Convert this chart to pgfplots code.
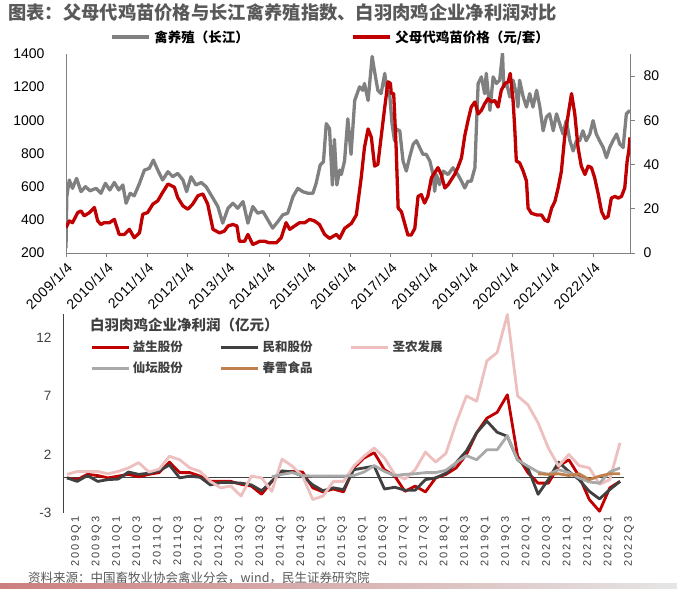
\documentclass[border=0pt]{standalone}
\usepackage{fontspec}
\setmainfont{Liberation Sans}
\newfontfamily\cjk{Noto Sans CJK SC}
\usepackage{pgfplots}
\pgfplotsset{compat=1.18}

\definecolor{cred}{HTML}{C00000}
\definecolor{cgray}{HTML}{808080}
\definecolor{cdark}{HTML}{404040}
\definecolor{cpink}{HTML}{EDBFBF}
\definecolor{clight}{HTML}{A9A9A9}
\definecolor{cbrown}{HTML}{C0804C}
\definecolor{ctitle}{HTML}{595959}

\newcommand\fs[1]{\fontsize{#1bp}{#1bp}\selectfont}

\begin{document}
\begin{tikzpicture}[x=1bp,y=1bp]
\useasboundingbox (0,0) rectangle (677,589);

% ---------- top: price vs index ----------
\begin{axis}[
  at={(66bp,336bp)}, anchor=south west,
  scale only axis, width=564bp, height=199bp,
  xmin=2009, xmax=2022.89, ymin=200, ymax=1400,
  axis x line*=bottom, axis y line*=left,
  axis line style={-, draw=cgray, line width=0.8pt},
  tick align=outside, major tick length=4bp,
  xtick={2009,...,2022},
  xticklabels={2009/1/4,2010/1/4,2011/1/4,2012/1/4,2013/1/4,2014/1/4,2015/1/4,
    2016/1/4,2017/1/4,2018/1/4,2019/1/4,2020/1/4,2021/1/4,2022/1/4},
  xtick style={draw=cgray, line width=0.8pt},
  ytick={200,400,...,1400}, ytick style={draw=none},
  /pgf/number format/assume math mode=true,
  /pgf/number format/1000 sep={},
  xticklabel style={rotate=45, anchor=north east, font=\fs{14}\addfontfeatures{LetterSpace=4}},
  yticklabel style={font=\fs{14}, xshift=-14bp},
  legend style={at={(0.078,1.085)}, anchor=west, draw=none, fill=none,
    inner sep=0pt, legend columns=2,
    nodes={inner sep=0pt, font=\cjk\bfseries\fs{13.5}},
    /tikz/every odd column/.append style={column sep=4bp},
    /tikz/every even column/.append style={column sep=102bp}},
  legend image code/.code={\draw[#1] (0bp,0bp) -- (37bp,0bp);},
]
\addplot[cgray, line width=3.3bp, line join=round] coordinates {
(2009.00,230) (2009.02,540) (2009.08,640) (2009.16,590) (2009.26,650)
(2009.37,570) (2009.48,600) (2009.59,575) (2009.74,590) (2009.86,560)
(2009.97,620) (2010.08,580) (2010.19,625) (2010.30,580) (2010.40,610)
(2010.48,500) (2010.58,560) (2010.68,545) (2010.81,620) (2010.93,700)
(2011.05,710) (2011.15,760) (2011.26,700) (2011.38,640) (2011.51,690)
(2011.63,660) (2011.75,680) (2011.88,640) (2011.97,570) (2012.08,660)
(2012.20,610) (2012.33,625) (2012.45,600) (2012.62,530) (2012.74,480)
(2012.86,380) (2012.99,470) (2013.11,500) (2013.23,470) (2013.36,510)
(2013.48,380) (2013.60,480) (2013.72,440) (2013.85,450) (2013.97,400)
(2014.09,350) (2014.22,390) (2014.34,430) (2014.46,440) (2014.59,540)
(2014.71,590) (2014.83,570) (2014.96,560) (2015.08,560) (2015.16,620)
(2015.26,730) (2015.34,750) (2015.41,980) (2015.49,950) (2015.56,610)
(2015.61,885) (2015.67,610) (2015.74,700) (2015.78,673) (2015.86,755)
(2015.94,1009) (2016.02,795) (2016.11,1120) (2016.23,1202) (2016.31,1181)
(2016.35,1222) (2016.44,1120) (2016.54,1385) (2016.60,1293) (2016.68,1181)
(2016.76,1161) (2016.85,1283) (2016.90,1181) (2016.97,1161) (2017.03,978)
(2017.09,877) (2017.13,948) (2017.22,937) (2017.30,755) (2017.38,694)
(2017.46,775) (2017.55,856) (2017.63,877) (2017.71,836) (2017.79,795)
(2017.87,795) (2017.96,755) (2018.04,673) (2018.08,572) (2018.12,673)
(2018.20,612) (2018.29,694) (2018.41,673) (2018.53,714) (2018.65,673)
(2018.74,633) (2018.82,592) (2018.90,633) (2018.98,633) (2019.07,714)
(2019.11,978) (2019.15,1222) (2019.23,1262) (2019.31,1161) (2019.35,1283)
(2019.44,1060) (2019.52,1262) (2019.60,1222) (2019.68,1242) (2019.75,1405)
(2019.78,1202) (2019.85,1222) (2019.93,1141) (2020.01,1242) (2020.09,1161)
(2020.13,1080) (2020.17,1242) (2020.26,1141) (2020.34,1080) (2020.42,1161)
(2020.50,1080) (2020.59,1181) (2020.67,1080) (2020.75,937) (2020.83,1019)
(2020.91,1039) (2021.00,937) (2021.08,1039) (2021.16,978) (2021.24,917)
(2021.32,998) (2021.41,877) (2021.49,815) (2021.57,877) (2021.65,877)
(2021.73,937) (2021.81,877) (2021.90,917) (2021.98,998) (2022.06,917)
(2022.14,877) (2022.23,836) (2022.31,775) (2022.39,836) (2022.47,877)
(2022.56,917) (2022.64,856) (2022.72,836) (2022.80,1039) (2022.89,1060)
};
\addlegendentry{禽养殖（长江）}
\addlegendimage{cred, line width=3.3bp}
\addlegendentry{父母代鸡苗价格（元/套）}
\end{axis}

\begin{axis}[
  at={(66bp,336bp)}, anchor=south west,
  scale only axis, width=564bp, height=199bp,
  xmin=2009, xmax=2022.89, ymin=0, ymax=90,
  axis x line=none, axis y line*=right,
  axis line style={-, draw=cgray, line width=0.8pt},
  tick align=outside, major tick length=5bp,
  ytick={0,20,...,80}, ytick style={draw=cgray, line width=0.8pt},
  /pgf/number format/assume math mode=true,
  yticklabel style={font=\fs{14}, xshift=5bp},
]
\addplot[cred, line width=3.3bp, line join=round] coordinates {
(2009.00,11.4) (2009.08,14.5) (2009.16,13.7) (2009.29,18.3) (2009.37,19.0)
(2009.45,16.8) (2009.58,18.3) (2009.70,20.6) (2009.78,14.5) (2009.86,12.9)
(2009.94,13.7) (2010.07,13.7) (2010.19,15.2) (2010.31,8.4) (2010.44,8.4)
(2010.56,10.7) (2010.68,6.9) (2010.81,9.1) (2010.89,17.5) (2011.01,18.3)
(2011.14,22.1) (2011.26,23.6) (2011.38,27.4) (2011.51,31.2) (2011.59,30.5)
(2011.67,29.7) (2011.75,25.1) (2011.88,21.3) (2012.00,19.8) (2012.12,22.1)
(2012.25,25.9) (2012.37,26.7) (2012.49,22.1) (2012.62,10.7) (2012.78,9.1)
(2012.90,9.9) (2012.99,12.2) (2013.11,12.9) (2013.21,12.2) (2013.27,5.3)
(2013.40,5.3) (2013.48,8.4) (2013.60,3.8) (2013.77,5.3) (2013.89,5.3)
(2014.01,4.6) (2014.18,4.6) (2014.30,6.9) (2014.42,13.7) (2014.51,10.7)
(2014.63,12.2) (2014.75,13.7) (2014.88,13.7) (2015.00,15.2) (2015.12,14.5)
(2015.24,12.9) (2015.37,8.4) (2015.49,6.6) (2015.66,8.4) (2015.74,6.6)
(2015.86,11.1) (2016.03,13.4) (2016.15,17.2) (2016.27,34.0) (2016.35,47.7)
(2016.44,56.1) (2016.52,52.3) (2016.60,39.3) (2016.68,40.1) (2016.76,52.3)
(2016.85,66.0) (2016.93,77.4) (2016.99,76.7) (2017.01,72.1) (2017.07,72.1)
(2017.13,47.7) (2017.18,20.3) (2017.26,18.7) (2017.34,13.4) (2017.42,8.1)
(2017.50,8.1) (2017.59,11.1) (2017.67,25.6) (2017.75,26.4) (2017.83,22.6)
(2017.91,25.6) (2018.00,34.0) (2018.08,36.3) (2018.16,38.6) (2018.24,35.5)
(2018.33,29.4) (2018.41,30.9) (2018.49,33.2) (2018.57,35.5) (2018.65,38.6)
(2018.74,43.1) (2018.82,53.0) (2018.90,59.9) (2018.98,66.0) (2019.07,68.3)
(2019.15,62.9) (2019.23,64.5) (2019.31,67.5) (2019.39,69.8) (2019.48,68.3)
(2019.56,69.0) (2019.64,66.0) (2019.72,73.6) (2019.81,76.7) (2019.89,77.4)
(2019.94,81.2) (2020.01,69.0) (2020.05,56.8) (2020.09,41.6) (2020.17,40.8)
(2020.26,37.0) (2020.34,32.5) (2020.38,20.3) (2020.46,18.0) (2020.59,17.2)
(2020.71,17.2) (2020.79,14.9) (2020.87,14.2) (2020.96,20.3) (2021.04,23.3)
(2021.12,29.4) (2021.20,37.0) (2021.28,52.3) (2021.37,62.9) (2021.45,72.1)
(2021.53,62.9) (2021.61,47.7) (2021.69,39.3) (2021.78,35.5) (2021.86,39.3)
(2021.94,38.6) (2022.02,34.0) (2022.11,26.4) (2022.19,18.7) (2022.27,15.7)
(2022.35,16.5) (2022.43,24.8) (2022.52,25.6) (2022.60,24.8) (2022.68,25.6)
(2022.76,29.4) (2022.82,41.6) (2022.86,46.2) (2022.89,52.3)
};
\end{axis}

% ---------- bottom: quarterly net profit ----------
\begin{axis}[
  at={(63bp,76bp)}, anchor=south west,
  scale only axis, width=561bp, height=199bp,
  xmin=-0.39, xmax=54.39, ymin=-3, ymax=14,
  axis x line*=bottom, axis y line*=left,
  x axis line style={draw=none},
  y axis line style={-, draw=cdark, line width=0.8pt},
  xtick={0,2,...,54}, xtick style={draw=none},
  xticklabels={2009Q1,2009Q3,2010Q1,2010Q3,2011Q1,2011Q3,2012Q1,2012Q3,
    2013Q1,2013Q3,2014Q1,2014Q3,2015Q1,2015Q3,2016Q1,2016Q3,2017Q1,2017Q3,
    2018Q1,2018Q3,2019Q1,2019Q3,2020Q1,2020Q3,2021Q1,2021Q3,2022Q1,2022Q3},
  xticklabel style={rotate=90, anchor=east, yshift=-9bp, text=cdark,
    font=\fs{11}\addfontfeatures{LetterSpace=20}},
  ytick={-3,2,7,12}, ytick style={draw=none},
  extra y ticks={0}, extra y tick labels={},
  extra y tick style={grid=major, major grid style={draw=cdark, line width=0.8pt}},
  /pgf/number format/assume math mode=true,
  yticklabel style={font=\fs{13.5}, text=cdark, xshift=-8bp},
  legend style={at={(0.048,0.864)}, anchor=north west, draw=none, fill=none,
    inner sep=0pt, legend columns=3, row sep=8bp,
    nodes={inner sep=0pt, text height=10bp, text depth=3bp,
      font=\cjk\bfseries\fs{12.5}, text=cdark},
    /tikz/every odd column/.append style={column sep=3bp},
    /tikz/every even column/.append style={column sep=37bp}},
  legend image code/.code={\draw[#1] (0bp,0bp) -- (37bp,0bp);},
  every axis plot/.append style={line width=2.8bp, line join=round},
]
\addplot[cred] coordinates {
(0,0) (1,-0.15) (2,0.3) (3,0.2) (4,0) (5,0.15) (6,0.3) (7,0.1) (8,0.3) (9,0.45)
(10,1.35) (11,0.45) (12,0.45) (13,0.15) (14,-0.3) (15,-0.3) (16,-0.3) (17,-0.55)
(18,-0.7) (19,-1.4) (20,-0.3) (21,0.5) (22,0.55) (23,0.5) (24,-0.85) (25,-1.2)
(26,-0.95) (27,-1.2) (28,0.85) (29,1.7) (30,2.15) (31,0.7) (32,0.15) (33,-1.15)
(34,-0.7) (35,-1.2) (36,0) (37,0.3) (38,0.85) (39,2.0) (40,3.85) (41,5.1)
(42,5.6) (43,7.1) (44,1.85) (45,0.45) (46,-0.45) (47,-0.45) (48,1.0) (49,1.55)
(50,0.15) (51,-1.85) (52,-2.85) (53,-0.85) (54,-0.3)
};
\addlegendentry{益生股份}
\addplot[cdark] coordinates {
(0,0) (1,-0.3) (2,0.2) (3,-0.3) (4,-0.15) (5,-0.1) (6,0.5) (7,0.3) (8,0.4)
(9,0.6) (10,1.1) (11,0) (12,0.15) (13,0.05) (14,-0.6) (15,-0.4) (16,-0.4)
(17,-0.45) (18,-0.6) (19,-1.1) (20,-0.3) (21,0.6) (22,0.5) (23,0.15) (24,-0.6)
(25,-1.1) (26,-0.85) (27,-1.0) (28,0.7) (29,0.85) (30,1.0) (31,-0.95) (32,-0.8)
(33,-1.05) (34,-1.05) (35,-0.15) (36,0) (37,0.4) (38,1.3) (39,2.3) (40,3.85)
(41,4.85) (42,3.9) (43,3.55) (44,1.55) (45,0.85) (46,-1.4) (47,-0.15) (48,1.35)
(49,0.55) (50,-0.15) (51,-1.15) (52,-1.8) (53,-1.0) (54,-0.3)
};
\addlegendentry{民和股份}
\addplot[cpink] coordinates {
(0,0.3) (1,0.55) (2,0.55) (3,0.55) (4,0.35) (5,0.55) (6,0.85) (7,1.3) (8,0.5)
(9,0.75) (10,1.85) (11,1.55) (12,0.85) (13,0.55) (14,-0.3) (15,-0.85) (16,-0.7)
(17,-1.55) (18,0.15) (19,0) (20,-1.15) (21,1.6) (22,1.0) (23,0.15) (24,-1.85)
(25,-1.55) (26,-0.3) (27,-0.3) (28,1.0) (29,1.85) (30,2.55) (31,1.7) (32,0.3)
(33,-0.1) (34,0.7) (35,2.2) (36,1.35) (37,2.1) (38,4.7) (39,7.0) (40,6.55)
(41,10.0) (42,10.7) (43,13.95) (44,7.0) (45,6.25) (46,4.7) (47,2.55) (48,1.0)
(49,2.0) (50,1.05) (51,0.85) (52,-0.55) (53,-0.15) (54,3.0)
};
\addlegendentry{圣农发展}
\addplot[clight] coordinates {
(20,0.1) (21,0.3) (22,0.45) (23,0.2) (24,0.15) (25,0.15) (26,0.15) (27,0.15)
(28,0.2) (29,0.5) (30,1.05) (31,0.55) (32,0.2) (33,0.3) (34,0.35) (35,0.45)
(36,0.45) (37,0.65) (38,1.3) (39,1.9) (40,1.55) (41,2.4) (42,2.4) (43,3.6)
(44,1.55) (45,1.0) (46,0.5) (47,0.3) (48,0.7) (49,0.45) (50,0) (51,-0.35)
(52,-0.45) (53,0.5) (54,0.85)
};
\addlegendentry{仙坛股份}
\addplot[cbrown] coordinates {
(46,0.35) (47,0.3) (48,0.35) (49,0.2) (50,0.35) (51,-0.15) (52,0.15) (53,0.35)
(54,0.35)
};
\addlegendentry{春雪食品}
\end{axis}

% ---------- texts ----------
\node[anchor=west, inner sep=0pt, text=ctitle] at (8,576)
  {\cjk\bfseries\fs{18.3}图表：父母代鸡苗价格与长江禽养殖指数、白羽肉鸡企业净利润对比};
\node[anchor=west, inner sep=0pt, text=cdark] at (90,264)
  {\cjk\bfseries\fs{14.5}白羽肉鸡企业净利润（亿元）};
\node[anchor=west, inner sep=0pt, text=ctitle] at (28,11)
  {\cjk\fs{12.5}资料来源：中国畜牧业协会禽业分会，wind，民生证券研究院};
\shade[left color=cred!45!white!90!black, right color=black!10] (0,0) rectangle (677,5);
\end{tikzpicture}
\end{document}
